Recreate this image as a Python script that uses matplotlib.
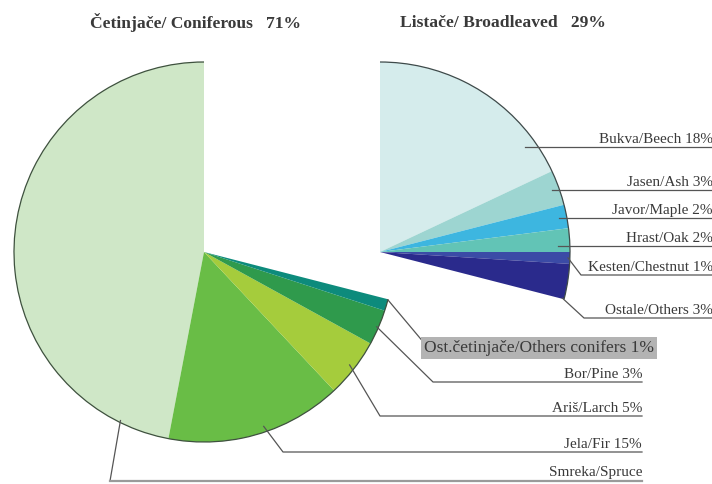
import numpy as np
import matplotlib
matplotlib.use("Agg")
import matplotlib.pyplot as plt
from matplotlib.patches import Arc

# ---- data ----
con_labels = ["Smreka/Spruce", "Jela/Fir 15%", "Ariš/Larch 5%", "Bor/Pine 3%",
              "Ost.četinjače/Others conifers 1%"]
con_values = [47, 15, 5, 3, 1]
con_colors = ["#cfe7c7", "#69bd46", "#a5cc3c", "#2f9a4c", "#0d8b7c"]

brd_labels = ["Bukva/Beech 18%", "Jasen/Ash 3%", "Javor/Maple 2%", "Hrast/Oak 2%",
              "Kesten/Chestnut 1%", "Ostale/Others 3%"]
brd_values = [18, 3, 2, 2, 1, 3]
brd_colors = ["#d5ecec", "#9dd5d1", "#3db6e0", "#62c4b6", "#3b4ba6", "#2a2a8c"]

titles = ["Četinjače/ Coniferous   71%", "Listače/ Broadleaved   29%"]

W, H = 712, 484
fig = plt.figure(figsize=(W / 100, H / 100), dpi=100)
ax = fig.add_axes([0, 0, 1, 1])

R = 190
cL = (204, H - 252)
cR = (380, H - 252)

wl, _ = ax.pie([v / 100 for v in con_values], colors=con_colors, startangle=90,
               counterclock=True, normalize=False, radius=R, center=cL,
               wedgeprops=dict(linewidth=0))
wr, _ = ax.pie([v / 100 for v in brd_values], colors=brd_colors, startangle=90,
               counterclock=False, normalize=False, radius=R, center=cR,
               wedgeprops=dict(linewidth=0))

# arc outlines
ax.add_patch(Arc(cL, 2 * R, 2 * R, theta1=wl[0].theta1, theta2=wl[-1].theta2,
                 color="#3e513e", lw=0.9))
ax.add_patch(Arc(cR, 2 * R, 2 * R, theta1=wr[-1].theta1, theta2=wr[0].theta2,
                 color="#3e4a4a", lw=0.9))

ax.set_xlim(0, W)
ax.set_ylim(0, H)
ax.set_aspect("equal")
ax.axis("off")

font = dict(family=["Liberation Serif", "DejaVu Serif"], fontsize=11, color="#3a3a3a")
lc = "#555555"


def pt(w, frac, rf, center):
    a = np.deg2rad(w.theta1 + frac * (w.theta2 - w.theta1))
    return center[0] + rf * R * np.cos(a), center[1] + rf * R * np.sin(a)

# broadleaved labels: (anchor frac within wedge from theta1, radius frac)
brd_anchor = [(0.16, 0.94), (0.5, 0.96), (0.5, 0.96), (0.35, 0.94), (0.5, 0.99), (0.02, 0.99)]
brd_liney = [147, 190, 218, 246, 275, 318]
brd_elbow = [None, None, None, None, 581, 584]
for w, (f, rf), ly, ex, lab in zip(wr, brd_anchor, brd_liney, brd_elbow, brd_labels):
    x0, y0 = pt(w, f, rf, cR)
    yl = H - ly
    if ex is None:
        ax.plot([x0, W], [yl, yl], color=lc, lw=0.9)
    else:
        ax.plot([x0, ex, W], [y0, yl, yl], color=lc, lw=0.9)
    ax.text(W + 1, yl + 1, lab, ha="right", va="bottom", **font)

# coniferous labels
con_anchor = [(0.908, 0.99), (0.55, 0.97), (0.5, 0.97), (0.5, 0.99), (0.95, 1.0)]
con_liney = [481, 452, 416, 382, 350]
con_elbow = [110, 283, 380, 433, 430]
xr = 642
for i, (w, (f, rf), ly, ex, lab) in enumerate(zip(wl, con_anchor, con_liney, con_elbow, con_labels)):
    x0, y0 = pt(w, f, rf, cL)
    yl = H - ly
    if i == 4:
        ax.plot([x0, ex], [y0, yl], color=lc, lw=0.9)
        ax.text(654, yl + 2, lab, ha="right", va="center", **{**font, "fontsize": 12.5},
                bbox=dict(facecolor="#b3b3b3", edgecolor="none", pad=2.5))
    elif i == 0:
        ax.plot([x0, ex], [y0, yl], color=lc, lw=0.9)
        ax.plot([ex, xr], [yl, yl], color="#9a9a9a", lw=1.6)
        ax.text(xr, yl + 2, lab, ha="right", va="bottom", **font)
    else:
        ax.plot([x0, ex, xr], [y0, yl, yl], color=lc, lw=0.9)
        ax.text(xr, yl + 1, lab, ha="right", va="bottom", **font)

tfont = dict(family=["Liberation Serif", "DejaVu Serif"], fontsize=12.6,
             fontweight="bold", color="#3a3a3a", va="center")
ax.text(90, H - 23, titles[0], ha="left", **tfont)
ax.text(400, H - 23, titles[1], ha="left", **tfont)

fig.savefig("out.png", dpi=100)
